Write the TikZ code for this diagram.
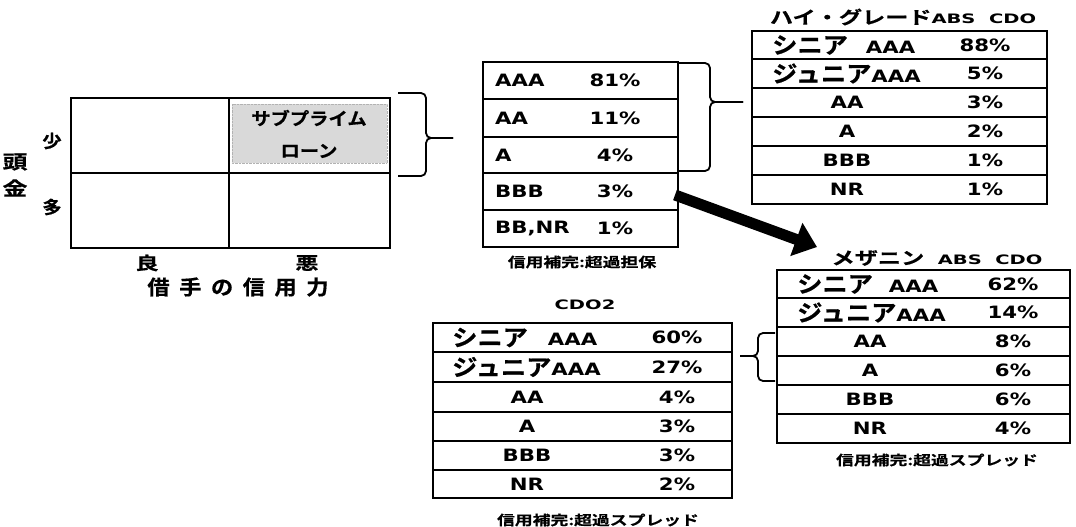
\documentclass[tikz,border=0pt]{standalone}
\usepackage{fontspec}
\setmainfont{DejaVu Sans}[FakeStretch=1.25]
\newfontfamily\jpf{Noto Sans CJK JP}[Scale=1.35, FakeStretch=1.1, BoldFont={Noto Sans CJK JP Bold}, BoldFeatures={FakeBold=0.6}]
\newcommand{\J}[1]{{\jpf #1}}
\newcommand{\wide}[1]{\scalebox{1.2}[1]{#1}}
\usetikzlibrary{arrows.meta}
\begin{document}
\begin{tikzpicture}[x=1pt,y=-1pt,
  frame/.style={line width=1.4pt},
  grid/.style={line width=2.6pt},
  tt/.style={font=\bfseries\fontsize{17}{20}\selectfont, inner sep=0pt},
  ttl/.style={font=\bfseries\fontsize{13}{16}\selectfont, inner sep=0pt},
  captxt/.style={font=\bfseries\fontsize{10}{12}\selectfont, inner sep=0pt},
  mx/.style={font=\bfseries\fontsize{13}{16}\selectfont, inner sep=0pt},
  brace/.style={line width=1.8pt, rounded corners=5pt}]
\useasboundingbox (0,0) rectangle (1076,527);

% ---------- matrix ----------
\draw[fill=gray!30, draw=gray!60, densely dotted, thin] (232,104) rectangle (387,163);
\draw[grid] (71,98) rectangle (390,248);
\draw[grid] (229,98) -- (229,248);
\draw[grid] (71,173) -- (390,173);
\node[mx] (sub1) at (309,118) {\J{サブプライム}};
\node[mx] (sub2) at (309,151) {\J{ローン}};
\node[mx] (few) at (52,141) {\J{少}};
\node[mx] (many) at (52,207) {\J{多}};
\node[mx, font=\bfseries\fontsize{14}{16}\selectfont] (head1) at (15,162) {\wide{\J{頭}}};
\node[mx, font=\bfseries\fontsize{14}{16}\selectfont] (head2) at (15,188) {\wide{\J{金}}};
\node[mx] (good) at (147,263) {\wide{\J{良}}};
\node[mx] (bad) at (307,263) {\wide{\J{悪}}};
\node[mx, font=\bfseries\fontsize{15}{18}\selectfont] (credit) at (238,287)
  {\J{借\hspace{9.5pt}手\hspace{9.5pt}の\hspace{9.5pt}信\hspace{9.5pt}用\hspace{9.5pt}力}};

% brace from matrix
\draw[brace] (398,93) -- (426,93) -- (426,138) -- (453,138);
\draw[brace] (398,176) -- (426,176) -- (426,138) -- (453,138);

% ---------- middle table ----------
\draw[frame] (483,62) rectangle (678,247);
\foreach \y in {99,137,173,210} \draw[frame] (483,\y) -- (678,\y);
\foreach \l/\p/\y [count=\i] in {AAA/81\%/80.5, AA/11\%/118, A/4\%/155, BBB/3\%/191.5, {BB,NR}/1\%/228.5}{
  \node[tt, anchor=west] (ml\i) at (495,\y) {\l};
  \node[tt] (mp\i) at (615,\y) {\p};
}
\node[captxt] (mcap) at (582,262) {\wide{\J{信用補完:超過担保}}};

% brace from middle table
\draw[brace] (678,63) -- (710,63) -- (710,102) -- (743,102);
\draw[brace] (678,171) -- (710,171) -- (710,102) -- (743,102);

% ---------- high grade table ----------
\node[ttl] (htitle) at (903,17) {\wide{\J{ハイ・グレード}ABS~~CDO}};
\draw[frame] (752,31) rectangle (1047,204);
\foreach \y in {59,88,117,146,175} \draw[frame] (752,\y) -- (1047,\y);
\node[tt, anchor=west] (hl1) at (772,45) {\J{シニア}\hspace{18pt}AAA};
\node[tt, anchor=west] (hl2) at (772,73.5) {\J{ジュニア}AAA};
\foreach \l/\y [count=\i from 3] in {AA/102.5, A/131.5, BBB/160.5, NR/189.5}
  \node[tt] (hl\i) at (847,\y) {\l};
\foreach \p/\y [count=\i] in {88\%/45, 5\%/73.5, 3\%/102.5, 2\%/131.5, 1\%/160.5, 1\%/189.5}
  \node[tt] (hp\i) at (985,\y) {\p};

% ---------- arrow ----------
\coordinate (arrS) at (675,195);
\coordinate (arrE) at (817,247);
\draw[line width=11pt, -{Triangle[length=22pt,width=34pt]}] (arrS) -- (arrE);

% ---------- mezzanine table ----------
\node[ttl] (ztitle) at (937,258) {\wide{\J{メザニン}~~ABS~~CDO}};
\draw[frame] (777,270) rectangle (1070,443);
\foreach \y in {298,327,356,385,414} \draw[frame] (777,\y) -- (1070,\y);
\node[tt, anchor=west] (zl1) at (797,284) {\J{シニア}\hspace{16pt}AAA};
\node[tt, anchor=west] (zl2) at (797,312.5) {\J{ジュニア}AAA};
\foreach \l/\y [count=\i from 3] in {AA/341.5, A/370.5, BBB/399.5, NR/428.5}
  \node[tt] (zl\i) at (870,\y) {\l};
\foreach \p/\y [count=\i] in {62\%/284, 14\%/312.5, 8\%/341.5, 6\%/370.5, 6\%/399.5, 4\%/428.5}
  \node[tt] (zp\i) at (1013,\y) {\p};
\node[captxt] (zcap) at (937,460) {\wide{\J{信用補完:超過スプレッド}}};

% brace into CDO2
\draw[brace] (775,333) -- (758,333) -- (758,356) -- (740,356);
\draw[brace] (775,381) -- (758,381) -- (758,356) -- (740,356);

% ---------- CDO2 table ----------
\node[ttl] (ctitle) at (585,305) {\wide{CDO2}};
\draw[frame] (433,323) rectangle (732,498);
\foreach \y in {352,382,412,441,470} \draw[frame] (433,\y) -- (732,\y);
\node[tt, anchor=west] (cl1) at (452,337.5) {\J{シニア}\hspace{20pt}AAA};
\node[tt, anchor=west] (cl2) at (452,367) {\J{ジュニア}AAA};
\foreach \l/\y [count=\i from 3] in {AA/397, A/426.5, BBB/455.5, NR/484}
  \node[tt] (cl\i) at (527,\y) {\l};
\foreach \p/\y [count=\i] in {60\%/337.5, 27\%/367, 4\%/397, 3\%/426.5, 3\%/455.5, 2\%/484}
  \node[tt] (cp\i) at (677,\y) {\p};
\node[captxt] (ccap) at (598,520) {\wide{\J{信用補完:超過スプレッド}}};
\end{tikzpicture}
\end{document}
